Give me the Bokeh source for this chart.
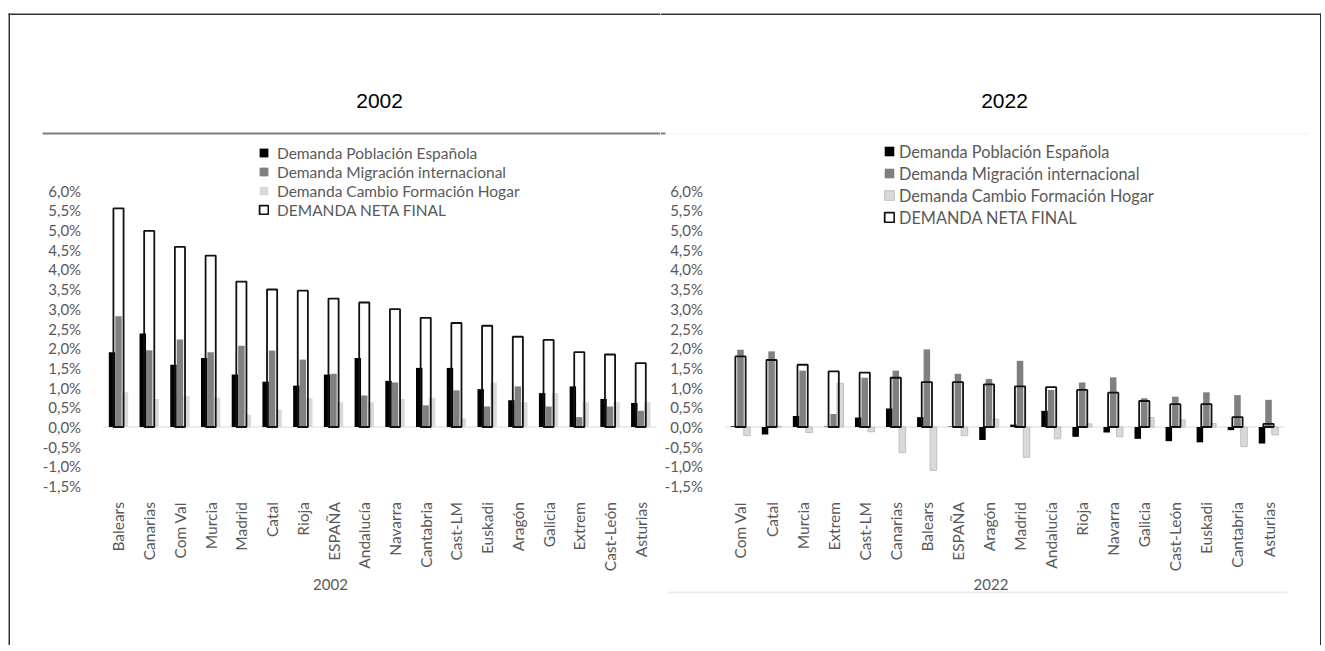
import math
from bokeh.plotting import figure
from bokeh.models import (ColumnDataSource, Range1d, FixedTicker, CustomJSTickFormatter,
                          Legend, LegendItem, BoxAnnotation, Label)
from bokeh.transform import dodge
from bokeh.layouts import row
from bokeh.embed import file_html
from bokeh.resources import INLINE

# ---------------- data ----------------
CATS_2002 = ["Balears", "Canarias", "Com Val", "Murcia", "Madrid", "Catal", "Rioja", "ESPAÑA",
             "Andalucía", "Navarra", "Cantabria", "Cast-LM", "Euskadi", "Aragón", "Galicia",
             "Extrem", "Cast-León", "Asturias"]
POB_2002 = [1.90, 2.37, 1.58, 1.75, 1.33, 1.15, 1.05, 1.33, 1.75, 1.17, 1.50, 1.50, 0.96, 0.68, 0.86, 1.03, 0.71, 0.61]
MIG_2002 = [2.81, 1.95, 2.22, 1.90, 2.06, 1.94, 1.71, 1.35, 0.80, 1.13, 0.55, 0.93, 0.52, 1.03, 0.52, 0.25, 0.52, 0.41]
HOG_2002 = [0.88, 0.71, 0.78, 0.74, 0.31, 0.44, 0.73, 0.63, 0.63, 0.71, 0.74, 0.22, 1.13, 0.63, 0.86, 0.63, 0.63, 0.63]
NETA_2002 = [5.55, 4.98, 4.57, 4.35, 3.69, 3.49, 3.46, 3.26, 3.16, 2.99, 2.77, 2.64, 2.57, 2.29, 2.21, 1.90, 1.84, 1.62]

CATS_2022 = ["Com Val", "Catal", "Murcia", "Extrem", "Cast-LM", "Canarias", "Balears", "ESPAÑA",
             "Aragón", "Madrid", "Andalucía", "Rioja", "Navarra", "Galicia", "Cast-León", "Euskadi",
             "Cantabria", "Asturias"]
POB_2022 = [0.02, -0.19, 0.28, 0.01, 0.24, 0.47, 0.25, 0.01, -0.33, 0.06, 0.41, -0.25, -0.14, -0.30, -0.36, -0.39, -0.08, -0.42]
MIG_2022 = [1.96, 1.92, 1.43, 0.33, 1.25, 1.43, 1.97, 1.35, 1.22, 1.68, 0.94, 1.13, 1.26, 0.73, 0.77, 0.88, 0.81, 0.69]
HOG_2022 = [-0.22, 0.02, -0.14, 1.11, -0.12, -0.65, -1.10, -0.22, 0.20, -0.77, -0.30, 0.08, -0.25, 0.24, 0.18, 0.09, -0.50, -0.20]
NETA_2022 = [1.79, 1.70, 1.58, 1.41, 1.38, 1.25, 1.14, 1.14, 1.08, 1.03, 1.01, 0.94, 0.87, 0.66, 0.58, 0.58, 0.25, 0.08]

Y_TICKS = [-1.5, -1.0, -0.5, 0.0, 0.5, 1.0, 1.5, 2.0, 2.5, 3.0, 3.5, 4.0, 4.5, 5.0, 5.5, 6.0]
SERIES = ["Demanda Población Española", "Demanda Migración internacional",
          "Demanda Cambio Formación Hogar", "DEMANDA NETA FINAL"]

# ---------------- layout constants (canvas pixels) ----------------
H = 645
ZERO_Y = 426.5          # canvas y of 0 %
PX_PER_UNIT = 39.4
Y_TOP = ZERO_Y / PX_PER_UNIT
Y_BOTTOM = -(H - ZERO_Y) / PX_PER_UNIT
GREY_TXT = "#595959"
FONT = "Lato"
BORDER = "#333333"


class Chart:
    def __init__(self, width, first_center, cat_px):
        self.w = width
        self.ux = cat_px
        self.x0 = -first_center / cat_px

    def X(self, cx):
        return self.x0 + cx / self.ux

    @staticmethod
    def Y(cy):
        return Y_TOP - cy / PX_PER_UNIT

    def box(self, p, l, r, t, b, color):
        p.add_layout(BoxAnnotation(left=self.X(l), right=self.X(r), top=self.Y(t), bottom=self.Y(b),
                                   fill_color=color, fill_alpha=1, line_color=None, level="overlay"))


def chart(geom, title, axis_label, cats, pob, mig, hog, neta, legend_xy, legend_font,
          label_h, glyph, standoff, light_line):
    p = figure(x_range=Range1d(geom.X(0), geom.X(geom.w)), y_range=Range1d(Y_BOTTOM, Y_TOP),
               width=geom.w, height=H, output_backend="svg", toolbar_location=None, min_border=0)
    p.title.visible = False
    p.outline_line_color = None
    p.xgrid.visible = False
    p.ygrid.visible = False

    idx = list(range(len(cats)))
    src = ColumnDataSource(dict(i=idx, pob=pob, mig=mig, hog=hog, neta=neta))

    # baseline at 0 % across the category area only
    half = 0.6 / PX_PER_UNIT
    p.add_layout(BoxAnnotation(left=-0.5, right=len(cats) - 0.5, top=half, bottom=-half,
                               fill_color="#d9d9d9", fill_alpha=1, line_color=None, level="underlay"))

    r_pob = p.vbar(x=dodge("i", -0.21), top="pob", bottom=0, width=0.21,
                   source=src, fill_color="#000000", line_color=None)
    r_mig = p.vbar(x=dodge("i", 0.0), top="mig", bottom=0, width=0.21,
                   source=src, fill_color="#808080", line_color=None)
    r_hog = p.vbar(x=dodge("i", 0.21), top="hog", bottom=0, width=0.21,
                   source=src, fill_color="#d9d9d9",
                   line_color=light_line, line_width=1 if light_line else 0)
    r_neta = p.vbar(x=dodge("i", 0.0), top="neta", bottom=0, width=0.33,
                    source=src, fill_alpha=0, line_color="#111111", line_width=1.8)

    # y axis, drawn at the left edge of the category area
    yax = p.yaxis[0]
    yax.fixed_location = -0.5
    yax.ticker = FixedTicker(ticks=Y_TICKS)
    yax.formatter = CustomJSTickFormatter(code="return tick.toFixed(1).replace('.', ',') + '%';")
    yax.axis_line_color = None
    yax.major_tick_line_color = None
    yax.minor_tick_line_color = None
    yax.major_label_standoff = 16
    yax.major_label_text_font = FONT
    yax.major_label_text_font_size = "15px"
    yax.major_label_text_color = GREY_TXT

    # category axis, drawn below the -1,5 % level
    xax = p.xaxis[0]
    xax.fixed_location = Y_TICKS[0]
    xax.ticker = FixedTicker(ticks=idx)
    xax.major_label_overrides = {i: c for i, c in zip(idx, cats)}
    xax.axis_line_color = None
    xax.major_tick_line_color = None
    xax.minor_tick_line_color = None
    xax.major_label_orientation = math.pi / 2
    xax.major_label_standoff = 10
    xax.major_label_text_font = FONT
    xax.major_label_text_font_size = "15.5px"
    xax.major_label_text_color = GREY_TXT
    xax.axis_label = axis_label
    xax.axis_label_text_font = FONT
    xax.axis_label_text_font_style = "normal"
    xax.axis_label_text_font_size = "15px"
    xax.axis_label_text_color = GREY_TXT
    xax.axis_label_standoff = 4

    legend = Legend(items=[LegendItem(label=SERIES[0], renderers=[r_pob]),
                           LegendItem(label=SERIES[1], renderers=[r_mig]),
                           LegendItem(label=SERIES[2], renderers=[r_hog]),
                           LegendItem(label=SERIES[3], renderers=[r_neta])],
                    location=legend_xy, orientation="vertical",
                    padding=0, margin=0, spacing=0,
                    label_height=label_h, glyph_height=glyph, glyph_width=glyph,
                    label_standoff=standoff,
                    label_text_font=FONT, label_text_font_size=legend_font,
                    label_text_color=GREY_TXT,
                    border_line_color=None, background_fill_alpha=0)
    p.add_layout(legend)

    p.add_layout(Label(x=(len(cats) - 1) / 2, y=geom.Y(100), text=title,
                       text_font="Liberation Sans", text_font_size="21px", text_color="#000000",
                       text_align="center", text_baseline="middle"))
    return p


W1 = 660
W2 = 1321 - W1
g1 = Chart(W1, 118.0, 30.72)
g2 = Chart(W2, 740.0 - W1, 31.06)

p1 = chart(g1, "2002", "2002", CATS_2002, POB_2002, MIG_2002, HOG_2002, NETA_2002,
           legend_xy=(258, H - 219), legend_font="15.5px", label_h=19, glyph=11, standoff=8,
           light_line=None)
p2 = chart(g2, "2022", "2022", CATS_2022, POB_2022, MIG_2022, HOG_2022, NETA_2022,
           legend_xy=(883 - W1, H - 228), legend_font="16.3px", label_h=22, glyph=12, standoff=4,
           light_line="#bfbfbf")

# outer frame of the picture
g1.box(p1, 8, 9.5, 13, H, BORDER)
g1.box(p1, 8, W1, 13, 14.5, BORDER)
g2.box(p2, 0, W2, 13, 14.5, BORDER)
g2.box(p2, W2 - 1.5, W2, 13, H, BORDER)
# separator line under the 2002 title
g1.box(p1, 42, W1, 132, 134, "#7f7f7f")
g2.box(p2, 0, 665 - W1, 132, 134, "#7f7f7f")
# faint lines of the 2022 panel
g2.box(p2, 665 - W1, 1308 - W1, 133, 134, "#f2f2f2")
g2.box(p2, 668 - W1, 1287 - W1, 591, 593, "#ececec")

layout = row(p1, p2, spacing=0)
open("out.html", "w").write(file_html(layout, INLINE))
